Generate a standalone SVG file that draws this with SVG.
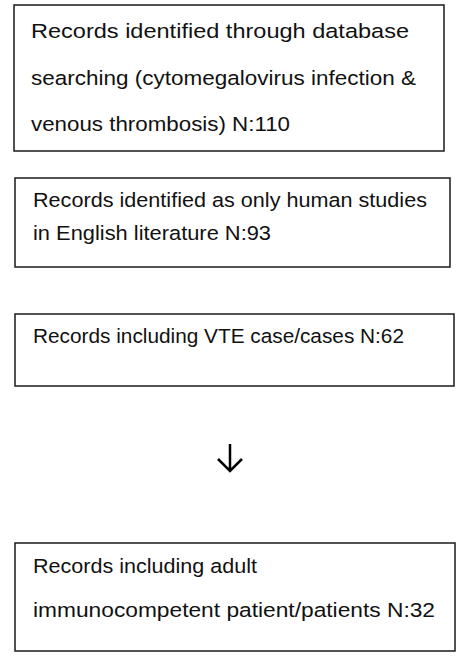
<svg xmlns="http://www.w3.org/2000/svg" width="462" height="665" viewBox="0 0 462 665">
<style>
.box{fill:#fff;stroke:#1a1a1a;stroke-width:1.5}
.t{font-family:"Liberation Sans",Arial,sans-serif;font-size:20.5px;fill:#111}
.c{fill:none;stroke:#000;stroke-width:2.5}
</style>
<rect width="462" height="665" fill="#fff"/>
<g id="node1">
<rect class="box" x="14" y="5" width="430" height="146"/>
<text class="t" x="31" y="38" textLength="378" lengthAdjust="spacingAndGlyphs">Records identified through database</text>
<text class="t" x="31" y="85" textLength="385" lengthAdjust="spacingAndGlyphs">searching  (cytomegalovirus infection &amp;</text>
<text class="t" x="31" y="131" textLength="259" lengthAdjust="spacingAndGlyphs">venous thrombosis) N:110</text>
</g>
<g id="node2">
<rect class="box" x="15" y="178" width="435" height="89"/>
<text class="t" x="33" y="207" textLength="394" lengthAdjust="spacingAndGlyphs">Records identified as only human studies</text>
<text class="t" x="33" y="240" textLength="238" lengthAdjust="spacingAndGlyphs">in English literature N:93</text>
</g>
<g id="node3">
<rect class="box" x="15" y="314" width="439" height="72"/>
<text class="t" x="33" y="343" textLength="371" lengthAdjust="spacingAndGlyphs">Records including VTE case/cases N:62</text>
</g>
<g id="connectors">
<path class="c" d="M230 444 V471 M218 459 L230 471 L242 459"/>
</g>
<g id="node4">
<rect class="box" x="15" y="543" width="440" height="108"/>
<text class="t" x="33" y="573" textLength="224" lengthAdjust="spacingAndGlyphs">Records including adult</text>
<text class="t" x="33" y="617" textLength="402" lengthAdjust="spacingAndGlyphs">immunocompetent patient/patients N:32</text>
</g>
</svg>
